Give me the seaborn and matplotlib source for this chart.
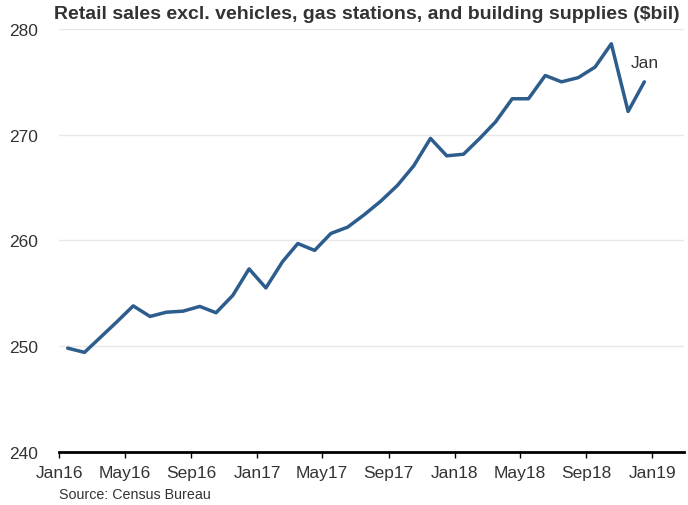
"""Retail sales excluding vehicles, gas stations and building supplies."""

import matplotlib.pyplot as plt
import pandas as pd
import seaborn as sns

# monthly values, $bil (first point Jan16, last point labelled "Jan")
sales = [
    249.8, 249.4, 250.8, 252.3, 253.8, 252.8, 253.2, 253.3, 253.75, 253.15,
    254.8, 257.3, 255.5, 258.0, 259.7, 259.05, 260.65, 261.25, 262.4, 263.7,
    265.2, 267.05, 269.65, 268.0, 268.15, 269.7, 271.2, 273.4, 273.4, 275.6,
    275.0, 275.4, 276.4, 278.6, 272.2, 275.0,
]
months = pd.date_range("2016-01-01", periods=len(sales), freq="MS") + pd.Timedelta(days=16)
tick_dates = pd.date_range("2016-01-01", "2019-01-01", freq="4MS")
tick_labels = ["Jan16", "May16", "Sep16", "Jan17", "May17", "Sep17",
               "Jan18", "May18", "Sep18", "Jan19"]
y_ticks = [240, 250, 260, 270, 280]
end_label = "Jan"

df = pd.DataFrame({"month": months, "sales": sales})

sns.set_theme(style="white")
plt.rcParams["font.family"] = ["Liberation Sans", "DejaVu Sans"]

fig = plt.figure(figsize=(6.88, 5.06), dpi=100)
ax = fig.add_axes([0.0858, 0.1053, 0.9082, 0.8354])

sns.lineplot(data=df, x="month", y="sales", ax=ax, color="#2c5d8c", linewidth=2.5)

ax.set_ylim(240, 280)
ax.set_xlim(pd.Timestamp("2016-01-01"), pd.Timestamp("2019-02-28"))
ax.set_yticks(y_ticks)
ax.set_xticks(tick_dates)
ax.set_xticklabels(tick_labels)
ax.set_xlabel("")
ax.set_ylabel("")

ax.grid(axis="y", color="#e8e8e8", linewidth=1)
ax.grid(axis="x", visible=False)
for side in ["left", "right", "top"]:
    ax.spines[side].set_visible(False)
ax.spines["bottom"].set_color("black")
ax.spines["bottom"].set_linewidth(2)
ax.tick_params(axis="x", bottom=True, length=4.5, width=1, color="black",
               pad=5, labelsize=12.5, labelcolor="#333333")
ax.tick_params(axis="y", left=False, length=0, pad=15,
               labelsize=12.5, labelcolor="#333333")

ax.annotate(end_label, xy=(months[-1], sales[-1]), xytext=(0, 14),
            textcoords="offset points", ha="center", va="center",
            fontsize=12.5, color="#333333")

fig.text(0.533, 0.972, "Retail sales excl. vehicles, gas stations, and building supplies ($bil)",
         ha="center", va="center", fontsize=14, fontweight="bold", color="#333333")
fig.text(0.086, 0.022, "Source: Census Bureau", ha="left", va="center",
         fontsize=10.3, color="#333333")

fig.savefig("out.png", dpi=100)
